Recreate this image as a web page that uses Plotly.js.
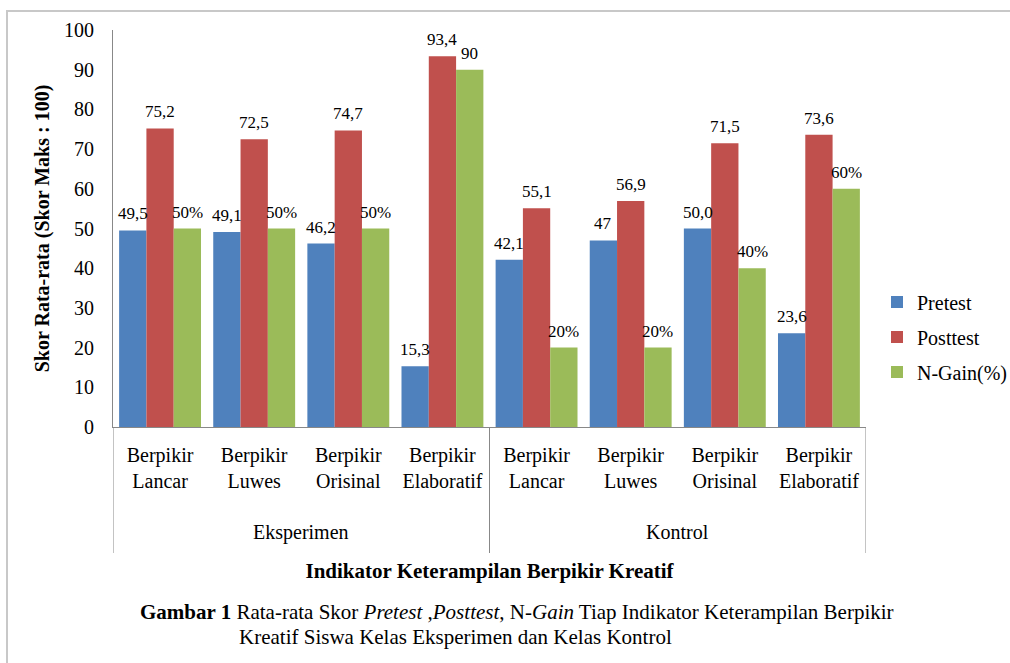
<!DOCTYPE html>
<html>
<head>
<meta charset="utf-8">
<script src="https://cdn.plot.ly/plotly-3.0.1.min.js"></script>
<style>
  body { margin: 0; background: #fff; }
  #wrap { position: relative; width: 1010px; height: 663px; }
  #chart { position: absolute; left: 0; top: 0; width: 1010px; height: 663px; }
  #frame { position: absolute; left: 6px; top: 10px; width: 1004px; height: 653px;
           border-top: 2px solid #c8c8c8; border-left: 2px solid #c8c8c8; pointer-events: none; box-sizing: border-box; }
</style>
</head>
<body>
<div id="wrap"><div id="chart"></div><div id="frame"></div></div>
<script>
// ---- data ----
const groups = ["Eksperimen","Eksperimen","Eksperimen","Eksperimen","Kontrol","Kontrol","Kontrol","Kontrol"];
const indicators = ["Berpikir<br>Lancar","Berpikir<br>Luwes","Berpikir<br>Orisinal","Berpikir<br>Elaboratif",
                    "Berpikir<br>Lancar","Berpikir<br>Luwes","Berpikir<br>Orisinal","Berpikir<br>Elaboratif"];
const pretest  = [49.5, 49.1, 46.2, 15.3, 42.1, 47.0, 50.0, 23.6];
const posttest = [75.2, 72.5, 74.7, 93.4, 55.1, 56.9, 71.5, 73.6];
const ngain    = [50, 50, 50, 90, 20, 20, 40, 60];
const pretestLabels  = ["49,5","49,1","46,2","15,3","42,1","47","50,0","23,6"];
const posttestLabels = ["75,2","72,5","74,7","93,4","55,1","56,9","71,5","73,6"];
const ngainLabels    = ["50%","50%","50%","90","20%","20%","40%","60%"];

const FONT = "Liberation Serif, Times New Roman, serif";
const AXIS = "#888888";
const BARGAP = 0.13;
const idx = indicators.map((_, i) => i);

// group label positions & divider positions derived from the groups array
const groupNames = [];
const groupCenters = [];
const boundaries = [-0.5];
groups.forEach((g, i) => {
  if (i > 0 && g !== groups[i - 1]) boundaries.push(i - 0.5);
});
boundaries.push(groups.length - 0.5);
for (let k = 0; k < boundaries.length - 1; k++) {
  groupNames.push(groups[Math.round(boundaries[k] + 0.5)]);
  groupCenters.push((boundaries[k] + boundaries[k + 1]) / 2);
}

const series = [
  {name: "Pretest",   y: pretest,  labels: pretestLabels,  color: "#4F81BD"},
  {name: "Posttest",  y: posttest, labels: posttestLabels, color: "#C0504D"},
  {name: "N-Gain(%)", y: ngain,    labels: ngainLabels,    color: "#9BBB59"}
];

const data = series.map((s, j) => ({
  type: "bar", name: s.name, x: idx, y: s.y, legendgroup: "g" + j,
  marker: {color: s.color},
  hoverinfo: "skip"
}));

// value labels placed on top of each bar (bar slot derived from bargap & series count)
const slot = (1 - BARGAP) / series.length;
const annotations = [];
series.forEach((s, j) => {
  s.y.forEach((v, i) => {
    annotations.push({
      xref: "x", yref: "y", x: i + (j - (series.length - 1) / 2) * slot, y: v,
      xanchor: "center", yanchor: "bottom", yshift: 5, showarrow: false,
      text: s.labels[i], font: {family: FONT, size: 17, color: "#000"}
    });
  });
});

groupNames.forEach((g, k) => annotations.push({
  xref: "x", yref: "paper", x: groupCenters[k], y: (427 - 532) / 397,
  xanchor: "center", yanchor: "middle", showarrow: false,
  text: g, font: {family: FONT, size: 20, color: "#000"}
}));

annotations.push(
  {xref: "paper", yref: "paper", x: (138 - 113) / 753, y: (427 - 612) / 397, xanchor: "left", yanchor: "middle",
   showarrow: false, font: {family: FONT, size: 21, color: "#000"},
   text: "<b>Gambar 1</b> Rata-rata Skor <i>Pretest</i> ,<i>Posttest</i>, N-<i>Gain</i> Tiap Indikator Keterampilan Berpikir"},
  {xref: "paper", yref: "paper", x: (237 - 113) / 753, y: (427 - 637) / 397, xanchor: "left", yanchor: "middle",
   showarrow: false, font: {family: FONT, size: 21, color: "#000"},
   text: "Kreatif Siswa Kelas Eksperimen dan Kelas Kontrol"}
);

const yDiv = (427 - 553) / 397;
const shapes = boundaries.map(b => ({
  type: "line", xref: "x", yref: "paper", x0: b, x1: b, y0: 0, y1: yDiv,
  line: {color: AXIS, width: 1}
}));

const layout = {
  width: 1010, height: 663,
  margin: {l: 113, r: 144, t: 30, b: 236},
  paper_bgcolor: "#fff", plot_bgcolor: "#fff",
  font: {family: FONT, size: 20, color: "#000"},
  barmode: "group", bargap: BARGAP, bargroupgap: 0,
  showlegend: true,
  legend: {xref: "container", x: 877 / 1010, xanchor: "left", y: 0.227, yanchor: "middle", tracegroupgap: 6,
           font: {family: FONT, size: 20, color: "#000"}, bgcolor: "rgba(0,0,0,0)"},
  xaxis: {
    range: [-0.5, 7.5], tickmode: "array", tickvals: idx, ticktext: indicators,
    showline: true, linecolor: AXIS, linewidth: 1,
    tickfont: {family: FONT, size: 20, color: "#000"},
    ticks: "", showgrid: false, zeroline: false, ticklabelstandoff: 10,
    title: {text: "<b>Indikator Keterampilan Berpikir Kreatif</b>", font: {family: FONT, size: 21, color: "#000"}, standoff: 72},
    automargin: false
  },
  yaxis: {
    range: [0, 100], dtick: 10, showgrid: false, zeroline: false,
    showline: true, linecolor: AXIS, linewidth: 1,
    ticks: "", ticklabelstandoff: 14,
    tickfont: {family: FONT, size: 20, color: "#000"},
    title: {text: "<b>Skor Rata-rata (Skor Maks : 100)</b>", font: {family: FONT, size: 20, color: "#000"}, standoff: 9},
    automargin: false
  },
  shapes: shapes,
  annotations: annotations
};

Plotly.newPlot("chart", data, layout, {displayModeBar: false, staticPlot: true});
</script>
</body>
</html>
